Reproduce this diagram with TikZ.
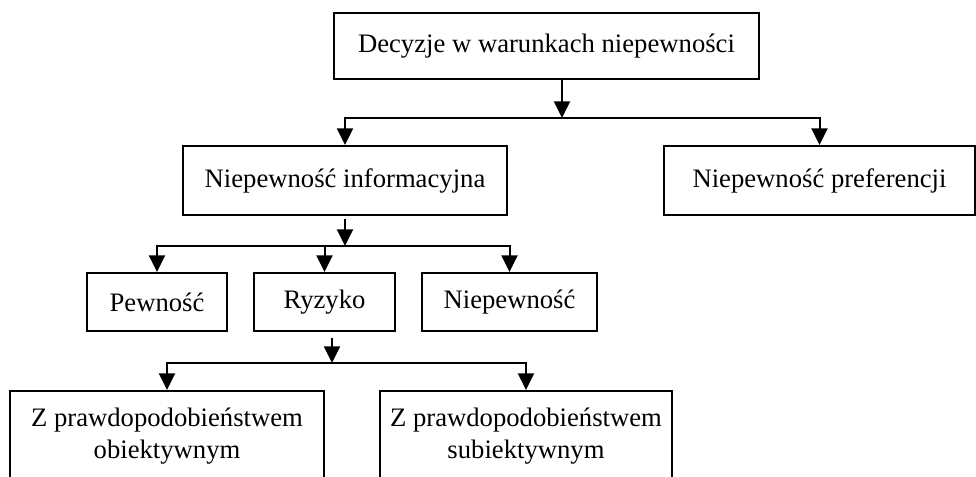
\documentclass[tikz,border=0pt]{standalone}
\usepackage{fontspec}
\setmainfont{Liberation Serif}
\usetikzlibrary{arrows.meta}
\begin{document}
\begin{tikzpicture}[x=0.75pt,y=-0.75pt,
  box/.style={draw, line width=1.5pt, inner sep=0pt, font=\fontsize{20}{24}\selectfont, align=center},
  arr/.style={line width=1.5pt, -{Triangle[length=12.5pt,width=12pt]}},
  lbl/.style={inner sep=0pt, font=\fontsize{20}{24}\selectfont, align=center}]
\useasboundingbox (0,0) rectangle (976,477);
\clip (0,0) rectangle (976,477);
\fill[white] (0,0) rectangle (976,477);
% boxes
\node[box, minimum width=318.75pt, minimum height=49.5pt] (top) at (546.5,46) {Decyzje w warunkach niepewności};
\node[box, minimum width=243pt, minimum height=51.75pt] (inf) at (345,180.5) {Niepewność informacyjna};
\node[box, minimum width=233.25pt, minimum height=51.75pt] (pref) at (819.5,180.5) {Niepewność preferencji};
\node[box, minimum width=105pt, minimum height=43.5pt] (pew) at (157,302) {Pewność};
\node[box, minimum width=105.75pt, minimum height=43.5pt] (ryz) at (324.5,302) {Ryzyko};
\node[box, minimum width=131.25pt, minimum height=43.5pt] (nie) at (509.5,302) {Niepewność};
\node[box, anchor=north, minimum width=235.5pt, minimum height=100pt,
  label={[lbl, anchor=north, yshift=-13.5pt]north:Z prawdopodobieństwem\\obiektywnym}] (ob) at (167,390) {};
\node[box, anchor=north, minimum width=219pt, minimum height=100pt,
  label={[lbl, anchor=north, yshift=-13.5pt]north:Z prawdopodobieństwem\\subiektywnym}] (sub) at (526,390) {};
% junctions
\coordinate (j1) at (562,118);
\coordinate (j2) at (345,246);
\coordinate (j3) at (332,363);
% connectors
\draw[arr] (top.south -| j1) -- (j1);
\draw[arr] (j1) -| (inf.north);
\draw[arr] (j1) -| (pref.north);
\draw[arr, shorten <=2pt] (inf.south) -- (j2);
\draw[arr] (j2) -| (pew.north);
\draw[arr] (j2) -| (ryz.north);
\draw[arr] (j2) -| (nie.north);
\draw[arr, shorten <=4.5pt] (ryz.south -| j3) -- (j3);
\draw[arr] (j3) -| (ob.north);
\draw[arr] (j3) -| (sub.north);
\end{tikzpicture}
\end{document}
